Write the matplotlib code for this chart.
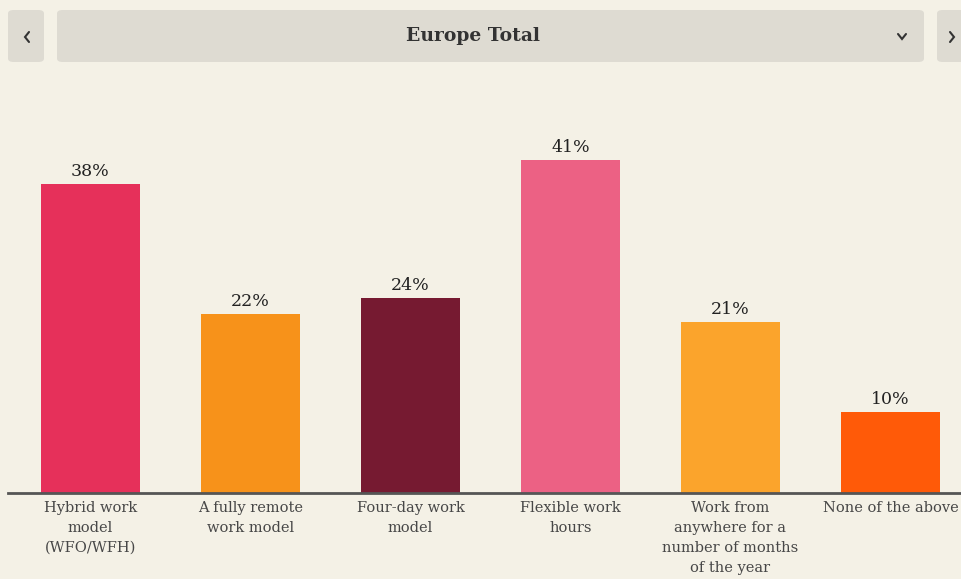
import numpy as np
import matplotlib
matplotlib.use("Agg")
from matplotlib import pyplot as plt
from matplotlib.patches import FancyBboxPatch
from matplotlib.lines import Line2D

region = "Europe Total"
categories = [
    "Hybrid work\nmodel\n(WFO/WFH)",
    "A fully remote\nwork model",
    "Four-day work\nmodel",
    "Flexible work\nhours",
    "Work from\nanywhere for a\nnumber of months\nof the year",
    "None of the above",
]
values = [38, 22, 24, 41, 21, 10]
colors = ["#e6305a", "#f7921a", "#761a31", "#ec6184", "#fba42c", "#ff5a08"]

bg = "#f4f1e6"
W, H = 962, 579
fig = plt.figure(figsize=(W / 100, H / 100), dpi=100, facecolor=bg)
ax = fig.add_axes([0, 0, 1, 1])
ax.set_facecolor(bg)
ax.axis("off")

# bars are 160 px apart, first centred at x=90 px; baseline sits 86 px above the bottom
x = np.arange(len(values))
px_per_unit = 8.12
ax.set_xlim(-90.5 / 160, (W - 90.5) / 160)
ax.set_ylim(-86 / px_per_unit, (H - 86) / px_per_unit)

ax.bar(x, values, width=0.62, color=colors, edgecolor="none", zorder=2)
ax.axhline(0, xmin=8 / W, xmax=1, color="#555555", lw=2, zorder=3)

serif = "DejaVu Serif"
for xi, v in zip(x, values):
    ax.annotate(f"{v}%", (xi, v), xytext=(0, 3), textcoords="offset points",
                ha="center", va="bottom", fontsize=12.5, family=serif, color="#222222")

# category names under the baseline
for xi, name in zip(x, categories):
    ax.annotate(name, (xi, 0), xytext=(0, -5.5), textcoords="offset points",
                ha="center", va="top", fontsize=10.5, family=serif, color="#474747",
                linespacing=1.55, annotation_clip=False)

# header: prev button, region dropdown, next button
def px_box(x0, y0, x1, y1):
    return FancyBboxPatch((x0 / W, 1 - y1 / H), (x1 - x0) / W, (y1 - y0) / H,
                          boxstyle="round,pad=0,rounding_size=0.006",
                          transform=fig.transFigure, facecolor="#dedbd2",
                          edgecolor="none", zorder=5)

fig.patches.append(px_box(8, 10, 44, 62))
fig.patches.append(px_box(57, 10, 924, 62))
fig.patches.append(px_box(937, 10, 975, 62))

fig.text(473 / W, 1 - 36 / H, region, ha="center", va="center", family=serif,
         fontsize=13.5, fontweight="bold", color="#333333", zorder=6)

def chevron(pts):
    xs = [p[0] / W for p in pts]
    ys = [1 - p[1] / H for p in pts]
    fig.add_artist(Line2D(xs, ys, transform=fig.transFigure, color="#333333",
                          lw=1.5, solid_capstyle="round", solid_joinstyle="miter",
                          zorder=6))

chevron([(29, 32), (25, 37), (29, 42)])
chevron([(950, 32), (954, 37), (950, 42)])
chevron([(898, 34), (902, 39), (906, 34)])

fig.savefig("out.png", dpi=100, facecolor=bg)
